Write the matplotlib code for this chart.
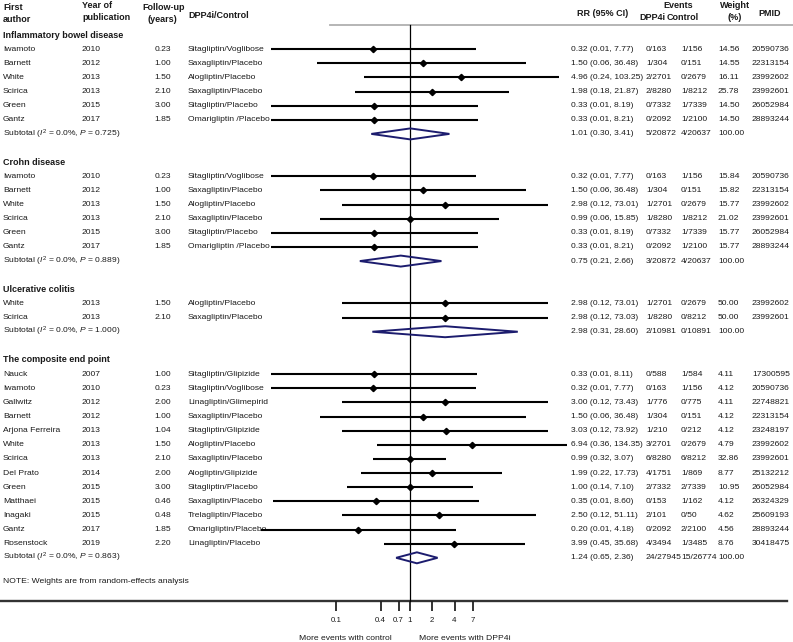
import matplotlib
matplotlib.use("Agg")
import matplotlib.pyplot as plt

plt.rcParams['font.family'] = ['Liberation Sans', 'DejaVu Sans']
plt.rcParams['mathtext.fontset'] = 'custom'
plt.rcParams['mathtext.rm'] = 'Liberation Sans'
plt.rcParams['mathtext.it'] = 'Liberation Sans:italic'

# ---- data ----
sections = ["Inflammatory bowel disease", "Crohn disease", "Ulcerative colitis", "The composite end point"]
section_of = [0] * 6 + [1] * 6 + [2] * 2 + [3] * 13

authors = ["Iwamoto", "Barnett", "White", "Scirica", "Green", "Gantz",
           "Iwamoto", "Barnett", "White", "Scirica", "Green", "Gantz",
           "White", "Scirica",
           "Nauck", "Iwamoto", "Gallwitz", "Barnett", "Arjona Ferreira", "White", "Scirica",
           "Del Prato", "Green", "Matthaei", "Inagaki", "Gantz", "Rosenstock"]
years = [2010, 2012, 2013, 2013, 2015, 2017,
         2010, 2012, 2013, 2013, 2015, 2017,
         2013, 2013,
         2007, 2010, 2012, 2012, 2013, 2013, 2013, 2014, 2015, 2015, 2015, 2017, 2019]
followup = [0.23, 1.00, 1.50, 2.10, 3.00, 1.85,
            0.23, 1.00, 1.50, 2.10, 3.00, 1.85,
            1.50, 2.10,
            1.00, 0.23, 2.00, 1.00, 1.04, 1.50, 2.10, 2.00, 3.00, 0.46, 0.48, 1.85, 2.20]
drugs = ["Sitagliptin/Voglibose", "Saxagliptin/Placebo", "Alogliptin/Placebo", "Saxagliptin/Placebo",
         "Sitagliptin/Placebo", "Omarigliptin /Placebo",
         "Sitagliptin/Voglibose", "Saxagliptin/Placebo", "Alogliptin/Placebo", "Saxagliptin/Placebo",
         "Sitagliptin/Placebo", "Omarigliptin /Placebo",
         "Alogliptin/Placebo", "Saxagliptin/Placebo",
         "Sitagliptin/Glipizide", "Sitagliptin/Voglibose", "Linagliptin/Glimepirid", "Saxagliptin/Placebo",
         "Sitagliptin/Glipizide", "Alogliptin/Placebo", "Saxagliptin/Placebo", "Alogliptin/Glipizide",
         "Sitagliptin/Placebo", "Saxagliptin/Placebo", "Trelagliptin/Placebo", "Omarigliptin/Placebo",
         "Linagliptin/Placebo"]
rr = [0.32, 1.50, 4.96, 1.98, 0.33, 0.33,
      0.32, 1.50, 2.98, 0.99, 0.33, 0.33,
      2.98, 2.98,
      0.33, 0.32, 3.00, 1.50, 3.03, 6.94, 0.99, 1.99, 1.00, 0.35, 2.50, 0.20, 3.99]
# lower limits estimated from where the lines start (labels show them rounded)
ci_lo = [0.0132, 0.0551, 0.24, 0.18, 0.0133, 0.0133,
         0.0132, 0.06, 0.12, 0.06, 0.0133, 0.0133,
         0.12, 0.12,
         0.0134, 0.0132, 0.12, 0.06, 0.12, 0.36, 0.32, 0.22, 0.14, 0.0142, 0.12, 0.0096, 0.45]
ci_hi = [7.77, 36.48, 103.25, 21.87, 8.19, 8.21,
         7.77, 36.48, 73.01, 15.85, 8.19, 8.21,
         73.01, 73.03,
         8.11, 7.77, 73.43, 36.48, 73.92, 134.35, 3.07, 17.73, 7.10, 8.60, 51.11, 4.18, 35.68]
ev_dpp = ["0/163", "1/304", "2/2701", "2/8280", "0/7332", "0/2092",
          "0/163", "1/304", "1/2701", "1/8280", "0/7332", "0/2092",
          "1/2701", "1/8280",
          "0/588", "0/163", "1/776", "1/304", "1/210", "3/2701", "6/8280", "4/1751", "2/7332",
          "0/153", "2/101", "0/2092", "4/3494"]
ev_ctl = ["1/156", "0/151", "0/2679", "1/8212", "1/7339", "1/2100",
          "1/156", "0/151", "0/2679", "1/8212", "1/7339", "1/2100",
          "0/2679", "0/8212",
          "1/584", "1/156", "0/775", "0/151", "0/212", "0/2679", "6/8212", "1/869", "2/7339",
          "1/162", "0/50", "2/2100", "1/3485"]
weights = [14.56, 14.55, 16.11, 25.78, 14.50, 14.50,
           15.84, 15.82, 15.77, 21.02, 15.77, 15.77,
           50.00, 50.00,
           4.11, 4.12, 4.11, 4.12, 4.12, 4.79, 32.86, 8.77, 10.95, 4.12, 4.62, 4.56, 8.76]
pmids = ["20590736", "22313154", "23992602", "23992601", "26052984", "28893244",
         "20590736", "22313154", "23992602", "23992601", "26052984", "28893244",
         "23992602", "23992601",
         "17300595", "20590736", "22748821", "22313154", "23248197", "23992602", "23992601",
         "25132212", "26052984", "26324329", "25609193", "28893244", "30418475"]

sub_i2 = [0.0, 0.0, 0.0, 0.0]
sub_p = [0.725, 0.889, 1.000, 0.863]
sub_rr = [1.01, 0.75, 2.98, 1.24]
sub_lo = [0.30, 0.21, 0.31, 0.65]
sub_hi = [3.41, 2.66, 28.60, 2.36]
sub_dpp = ["5/20872", "3/20872", "2/10981", "24/27945"]
sub_ctl = ["4/20637", "4/20637", "0/10891", "15/26774"]

ticks = [0.1, 0.4, 0.7, 1, 2, 4, 7]
tick_labels = ["0.1", "0.4", "0.7", "1", "2", "4", "7"]

# ---- layout ----
W, H = 793, 642
FS = 6.1
FSB = 6.5
TXT = '#1a1a1a'
NAVY = '#1c1c6e'
Y0, DY = 35, 14.13

fig = plt.figure(figsize=(W / 100, H / 100), dpi=100)
bg = fig.add_axes([0, 0, 1, 1])
bg.set_xlim(0, W)
bg.set_ylim(H, 0)
bg.axis('off')

# forest axes: 74 px per decade, RR=1 at x=410
fx0, fx1 = 250, 580
fa = fig.add_axes([fx0 / W, 0, (fx1 - fx0) / W, 1])
fa.set_xscale('log')
fa.set_xlim(10 ** ((fx0 - 410) / 74), 10 ** ((fx1 - 410) / 74))
fa.set_ylim(H, 0)
fa.set_facecolor('none')
for s in ['left', 'right', 'top']:
    fa.spines[s].set_visible(False)
fa.spines['bottom'].set_position(('data', 601))
fa.spines['bottom'].set_visible(False)
fa.set_yticks([])
fa.set_xticks(ticks)
fa.set_xticklabels(tick_labels)
fa.minorticks_off()
fa.tick_params(axis='x', direction='out', length=7.5, width=1.3, pad=4, labelsize=5.7,
               color='#222222', labelcolor=TXT)

# header
def t(x, y, s, **kw):
    kw.setdefault('fontsize', FS)
    kw.setdefault('color', TXT)
    kw.setdefault('va', 'center')
    bg.text(x, y, s, **kw)

hb = dict(fontweight='bold', fontsize=FSB)
t(3, 7, "First", **hb)
t(3, 19, "author", **hb)
t(82, 6, "Year of", **hb)
t(82, 18, "publication", **hb)
t(142, 7, "Follow-up", **hb)
t(148, 19, "(years)", **hb)
t(188, 15, "DPP4i/Control", **hb)
t(577, 14, "RR (95% CI)", **hb)
t(678, 6, "Events", ha='center', **hb)
t(639, 18, "DPP4i", **hb)
t(667, 17, "Control", **hb)
t(720, 6, "Weight", **hb)
t(728, 17, "(%)", **hb)
t(758, 14, "PMID", **hb)
bg.plot([330, 793], [25, 25], color='#b0b0b0', lw=1.3)

# rows
row = 0
for k, name in enumerate(sections):
    t(3, Y0 + DY * row, name, **hb)
    row += 1
    for i in [j for j, s in enumerate(section_of) if s == k]:
        y = Y0 + DY * row
        t(3, y, authors[i])
        t(82, y, str(years[i]))
        t(171, y, f"{followup[i]:.2f}", ha='right')
        t(188, y, drugs[i])
        t(571, y, f"{rr[i]:.2f} ({ci_lo[i]:.2f}, {ci_hi[i]:.2f})")
        t(646, y, ev_dpp[i])
        t(681, y, ev_ctl[i])
        t(718, y, f"{weights[i]:.2f}")
        t(752, y, pmids[i])
        fa.hlines(y, ci_lo[i], ci_hi[i], color='black', lw=1.5, clip_on=False, zorder=3)
        fa.plot(rr[i], y, marker='D', ms=3.2, color='black', clip_on=False, zorder=4)
        row += 1
    y = Y0 + DY * row
    t(3, y, r"Subtotal ($\mathit{I}^2$ = " + f"{sub_i2[k]:.1f}%, " + r"$\mathit{P}$ = " + f"{sub_p[k]:.3f})")
    t(571, y, f"{sub_rr[k]:.2f} ({sub_lo[k]:.2f}, {sub_hi[k]:.2f})")
    t(646, y, sub_dpp[k])
    t(681, y, sub_ctl[k])
    t(718, y, "100.00")
    fa.fill([sub_lo[k], sub_rr[k], sub_hi[k], sub_rr[k]], [y, y - 5.5, y, y + 5.5],
            facecolor='none', edgecolor=NAVY, lw=1.4, clip_on=False, zorder=3)
    last_y = y
    row += 2

t(3, last_y + 24, "NOTE: Weights are from random-effects analysis")

# reference line and axis
fa.plot([1, 1], [25, 601], color='black', lw=0.9, clip_on=False, zorder=2)
bg.plot([0, 787], [601, 601], color='#333333', lw=1.7)
t(345, 638, "More events with control", ha='center')
t(465, 638, "More events with DPP4i", ha='center')

fig.savefig("out.png", dpi=100)
